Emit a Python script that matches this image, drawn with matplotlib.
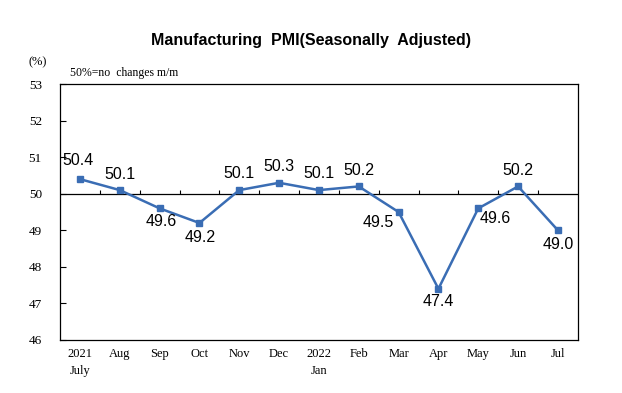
import matplotlib.pyplot as plt

months = ['2021\nJuly', 'Aug', 'Sep', 'Oct', 'Nov', 'Dec', '2022\nJan',
          'Feb', 'Mar', 'Apr', 'May', 'Jun', 'Jul']
pmi = [50.4, 50.1, 49.6, 49.2, 50.1, 50.3, 50.1, 50.2, 49.5, 47.4, 49.6, 50.2, 49.0]
# label offsets in pixels (dx, dy)
label_offsets = [(-2, 19), (0, 16), (2, -13), (1, -15), (0, 17), (0, 16), (0, 17),
                 (0, 16), (-20, -10), (0, -13), (17, -10), (0, 16), (0, -14)]

serif = ['SimSun', 'Liberation Serif', 'DejaVu Serif']
sans = ['Liberation Sans', 'DejaVu Sans']

fig = plt.figure(figsize=(6.22, 3.93), dpi=100)
ax = fig.add_axes([0.0965, 0.135, 0.8325, 0.651])

x = list(range(len(months)))
ax.axhline(50, color='black', linewidth=0.9, zorder=1)
ax.vlines([i + 0.5 for i in x[:-1]], 50, 50.1, color='black', linewidth=0.8, zorder=1)
ax.plot(x, pmi, color='#3A6DB4', linewidth=1.8, marker='s', markersize=4, zorder=3)

for i, (v, (dx, dy)) in enumerate(zip(pmi, label_offsets)):
    ax.annotate(f'{v:.1f}', (i, v), xytext=(dx, dy), textcoords='offset pixels',
                ha='center', va='center', fontsize=11.5, family=sans)

ax.set_xlim(-0.5, 12.5)
ax.set_ylim(46, 53)
ax.set_yticks(range(46, 54))
ax.set_xticks(x)
ax.set_xticklabels(months, family=serif, fontsize=9, linespacing=1.5, va='top')
ax.tick_params(axis='x', length=0, pad=6)
ax.tick_params(axis='y', direction='in', length=4, width=0.8, pad=13, labelsize=9.5)
for lbl in ax.get_yticklabels():
    lbl.set_family(serif)
for sp in ax.spines.values():
    sp.set_linewidth(0.9)

fig.text(0.5, 0.898, 'Manufacturing  PMI(Seasonally  Adjusted)', ha='center', va='center',
         fontsize=11.5, fontweight='bold', family=sans)
fig.text(0.061, 0.842, '(%)', ha='center', va='center', fontsize=9, family=serif)
fig.text(0.112, 0.814, '50%=no  changes m/m', ha='left', va='center', fontsize=8.5, family=serif)

fig.savefig('out.png', dpi=100)
